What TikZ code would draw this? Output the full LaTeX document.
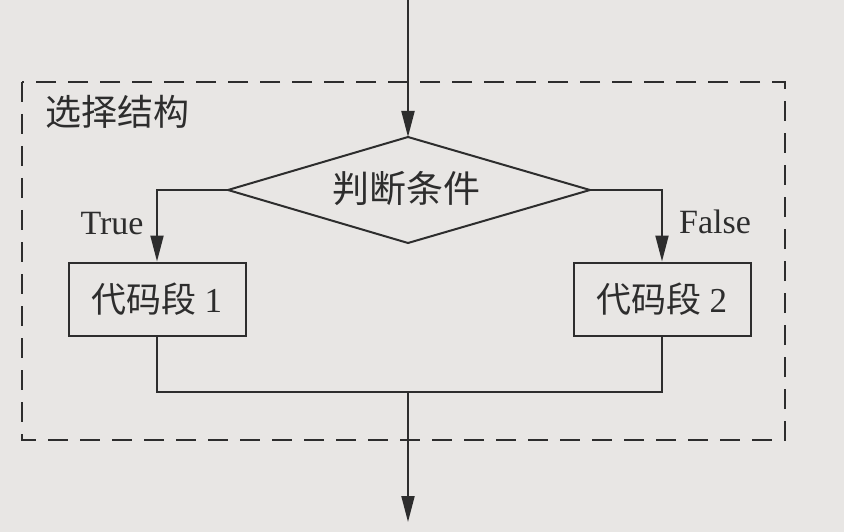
\documentclass[tikz,border=0pt]{standalone}
\usepackage{fontspec}
\setmainfont{Liberation Serif}
\newfontfamily\cjk{Noto Sans CJK SC}
\usetikzlibrary{arrows.meta,shapes.geometric}
\definecolor{paper}{RGB}{232,230,228}
\definecolor{ink}{RGB}{45,45,45}
\tikzset{
  ln/.style={draw=ink,line width=2pt},
  arr/.style={ln,-{Triangle[length=26pt,width=13pt]}},
  blk/.style={draw=ink,line width=2pt,minimum width=177pt,minimum height=73pt,font=\cjk\fontsize{35}{37}\selectfont,text=ink},
  lbl/.style={font=\fontsize{34}{36}\selectfont,text=ink},
}
\begin{document}
\begin{tikzpicture}[x=1pt,y=-1pt]
\fill[paper] (0,0) rectangle (844,532);
\useasboundingbox (0,0) rectangle (844,532);
% dashed frame
\draw[ink,line width=2pt,dash pattern=on 20pt off 12pt] (22,82) rectangle (785,440);
\node[anchor=west,font=\cjk\fontsize{36}{38}\selectfont,text=ink] (title) at (42,112) {选择结构};
% diamond
\coordinate (dt) at (408,137);
\coordinate (dl) at (228,190);
\coordinate (dr) at (590,190);
\coordinate (db) at (408,243);
\draw[ln] (dt) -- (dr) -- (db) -- (dl) -- cycle;
\node[font=\cjk\fontsize{37}{39}\selectfont,text=ink] (cond) at (406,189) {判断条件};
\coordinate (top) at (408,0);
\draw[arr] (top) -- (dt);
% blocks
\node[blk] (b1) at (157,299) {代码段 {\rmfamily 1}};
\node[blk] (b2) at (662,299) {代码段 {\rmfamily 2}};
\coordinate (lc) at (157,190);
\coordinate (rc) at (662,190);
\draw[arr] (dl) -- (lc) -- (b1.north);
\draw[arr] (dr) -- (rc) -- (b2.north);
\node[lbl] (t) at (112,224) {True};
\node[lbl] (f) at (715,222) {False};
% merge
\coordinate (ml) at (157,392);
\coordinate (mr) at (662,392);
\coordinate (mm) at (408,392);
\coordinate (out) at (408,522);
\draw[ln] (b1.south) -- (ml) -- (mr) -- (b2.south);
\draw[arr] (mm) -- (out);
\end{tikzpicture}
\end{document}
